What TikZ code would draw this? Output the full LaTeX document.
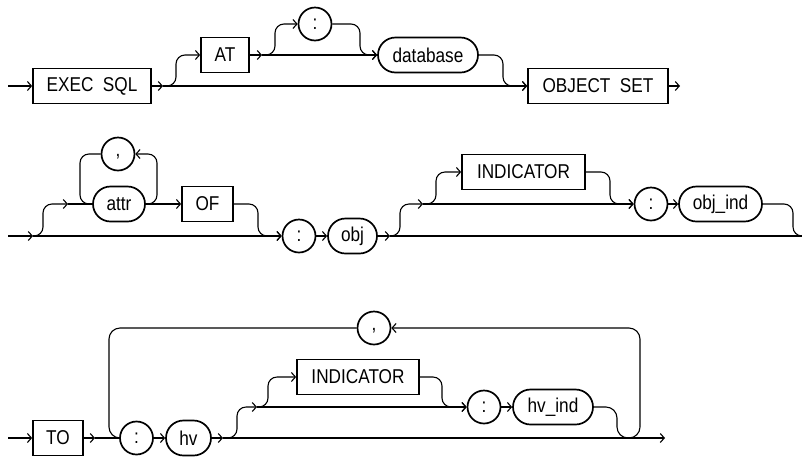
\documentclass[tikz,border=0pt]{standalone}
\usepackage{fontspec}
\setmainfont{Liberation Sans}[FakeStretch=0.86]
\usetikzlibrary{arrows.meta,shapes.misc}
\begin{document}
\begin{tikzpicture}[x=1pt,y=-1pt,
  conn/.style={line width=1.1pt},
  arr/.style={conn,-{Straight Barb[length=4pt,width=9pt,line width=1.1pt]}},
  rr/.style={rounded corners=9pt},
  lbl/.style={font=\fontsize{20}{20}\selectfont},
  kwbox/.style={draw,line width=1.7pt,rectangle,minimum height=35pt,inner sep=0pt,lbl},
  varbox/.style={draw,line width=1.7pt,rounded rectangle,minimum height=35pt,inner sep=0pt,lbl},
  symbox/.style={draw,line width=1.7pt,circle,minimum size=33pt,inner sep=0pt,lbl},
  commabox/.style={symbox,label={[lbl,inner sep=0pt,yshift=-3pt]center:,}}]
\useasboundingbox (0,0) rectangle (802,456);
% ---------- row 1 ----------
\node[kwbox,minimum width=118pt] (exec) at (92,86) {EXEC\ \ SQL};
\node[kwbox,minimum width=48pt] (at) at (225,55) {AT};
\node[symbox] (c1) at (315,24) {:};
\node[varbox,minimum width=100pt] (db) at (428,55) {database};
\node[kwbox,minimum width=140pt] (os) at (598,86) {OBJECT\ \ SET};
\coordinate (s1) at (8,86);
\coordinate (p1) at (163,86);
\coordinate (p2) at (262,55);
\coordinate (e1) at (680,86);
\draw[arr] (s1) -- (exec.west);
\draw[arr] (exec.east) -- (p1);
\draw[arr] (p1) -- (os.west);
\draw[arr,rr] (p1) -- (176,86) -- (176,55) -- (at.west);
\draw[arr] (at.east) -- (p2);
\draw[arr] (p2) -- (db.west);
\draw[arr,rr] (p2) -- (275,55) -- (275,24) -- (c1.west);
\draw[arr,rr] (c1.east) -- (360,24) -- (360,55) -- (db.west);
\draw[arr,rr] (db.east) -- (503,55) -- (503,86) -- (os.west);
\draw[arr] (os.east) -- (e1);
% ---------- row 2 ----------
\node[varbox,minimum width=52pt] (attr) at (119,204) {attr};
\node[commabox] (cm2) at (118,154) {};
\node[kwbox,minimum width=51pt] (of) at (207.5,204) {OF};
\node[symbox] (c2) at (299,236) {:};
\node[varbox,minimum width=49pt] (obj) at (352.5,236) {obj};
\node[kwbox,minimum width=123pt] (ind2) at (523.5,172) {INDICATOR};
\node[symbox] (c3) at (651,204) {:};
\node[varbox,minimum width=83pt] (oi) at (720.5,204) {obj\_ind};
\coordinate (s2) at (8,236);
\coordinate (q1) at (33,236);
\coordinate (q2) at (68,204);
\coordinate (q3) at (390,236);
\coordinate (q4) at (423,204);
\coordinate (e2) at (802,236);
\draw[arr] (s2) -- (q1);
\draw[arr] (q1) -- (c2.west);
\draw[arr,rr] (q1) -- (43,236) -- (43,204) -- (q2);
\draw[conn] (q2) -- (attr.west);
\draw[arr,rr] (attr.east) -- (157,204) -- (157,154) -- (cm2.east);
\draw[conn,rr] (cm2.west) -- (80,154) -- (80,204) -- (attr.west);
\draw[arr] (attr.east) -- (of.west);
\draw[arr,rr] (of.east) -- (258,204) -- (258,236) -- (c2.west);
\draw[arr] (c2.east) -- (obj.west);
\draw[arr] (obj.east) -- (q3);
\draw[conn] (q3) -- (e2);
\draw[arr,rr] (q3) -- (400,236) -- (400,204) -- (q4);
\draw[arr] (q4) -- (c3.west);
\draw[arr,rr] (q4) -- (436,204) -- (436,172) -- (ind2.west);
\draw[arr,rr] (ind2.east) -- (610,172) -- (610,204) -- (c3.west);
\draw[arr] (c3.east) -- (oi.west);
\draw[conn,rr] (oi.east) -- (793,204) -- (793,236) -- (e2);
% ---------- row 3 ----------
\node[kwbox,minimum width=50pt] (to) at (58,438) {TO};
\node[symbox] (c4) at (136.5,438) {:};
\node[varbox,minimum width=45pt] (hv) at (188.5,438) {hv};
\node[kwbox,minimum width=122pt] (ind3) at (358,377) {INDICATOR};
\node[symbox] (c5) at (484,407) {:};
\node[varbox,minimum width=80pt] (hvi) at (553,407) {hv\_ind};
\node[commabox] (cm3) at (374,328) {};
\coordinate (s3) at (8,438);
\coordinate (r1) at (95,438);
\coordinate (r2) at (223,438);
\coordinate (r3) at (257,407);
\coordinate (e3) at (665,438);
\draw[arr] (s3) -- (to.west);
\draw[arr] (to.east) -- (r1);
\draw[conn] (r1) -- (c4.west);
\draw[arr] (c4.east) -- (hv.west);
\draw[arr] (hv.east) -- (r2);
\draw[arr] (r2) -- (e3);
\draw[arr,rr] (r2) -- (237,438) -- (237,407) -- (r3);
\draw[arr] (r3) -- (c5.west);
\draw[arr,rr] (r3) -- (268,407) -- (268,377) -- (ind3.west);
\draw[arr,rr] (ind3.east) -- (442,377) -- (442,407) -- (c5.west);
\draw[arr] (c5.east) -- (hvi.west);
\draw[arr,rounded corners=11pt] (hvi.east) -- (617,407) -- (617,438) -- (640,438) -- (640,328) -- (cm3.east);
\draw[conn,rounded corners=11pt] (cm3.west) -- (109,328) -- (109,438) -- (c4.west);
\end{tikzpicture}
\end{document}
